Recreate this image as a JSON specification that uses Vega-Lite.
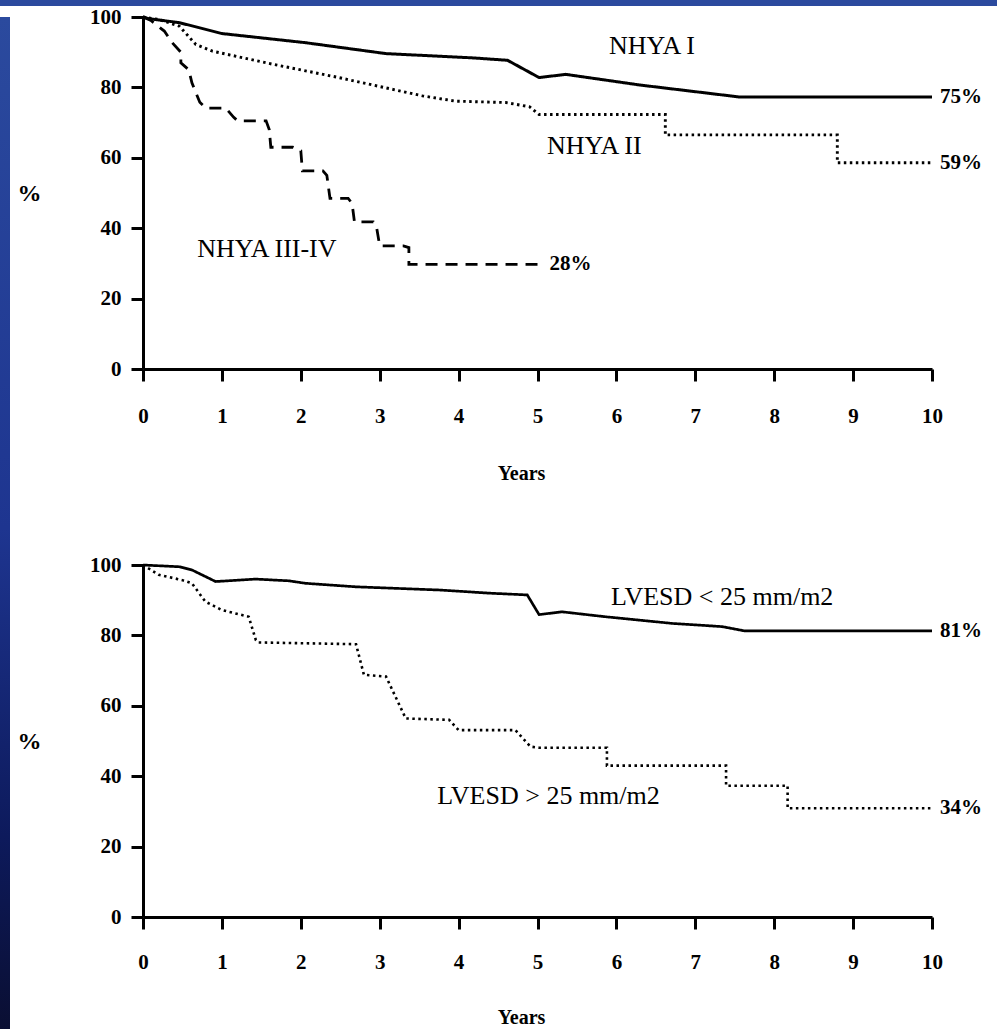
{
  "$schema": "https://vega.github.io/schema/vega-lite/v6.json",
  "padding": 0,
  "background": "white",
  "spacing": 0,
  "config": {
    "view": {"stroke": null},
    "axis": {
      "grid": false,
      "domainColor": "black",
      "domainWidth": 3,
      "tickColor": "black",
      "tickWidth": 3,
      "tickSize": 12,
      "labelFont": "Liberation Serif",
      "labelFontWeight": "bold",
      "labelFontSize": 21,
      "labelColor": "black",
      "labelFlush": false,
      "labelOverlap": false,
      "format": "d",
      "titleFont": "Liberation Serif",
      "titleFontWeight": "bold",
      "titleColor": "black"
    }
  },
  "datasets": {
    "topCurves": [
      {"g": "I", "t": 0, "s": 100}, {"g": "I", "t": 0.08, "s": 99.5}, {"g": "I", "t": 0.46, "s": 98.4}, {"g": "I", "t": 1.0, "s": 95.3}, {"g": "I", "t": 2.06, "s": 92.7}, {"g": "I", "t": 3.08, "s": 89.6}, {"g": "I", "t": 4.17, "s": 88.4}, {"g": "I", "t": 4.62, "s": 87.7}, {"g": "I", "t": 5.02, "s": 82.8}, {"g": "I", "t": 5.36, "s": 83.7}, {"g": "I", "t": 6.29, "s": 80.7}, {"g": "I", "t": 7.55, "s": 77.3}, {"g": "I", "t": 10, "s": 77.3},
      {"g": "II", "t": 0, "s": 100}, {"g": "II", "t": 0.2, "s": 99.3}, {"g": "II", "t": 0.46, "s": 97.4}, {"g": "II", "t": 0.67, "s": 92.2}, {"g": "II", "t": 0.88, "s": 90.3}, {"g": "II", "t": 1.64, "s": 86.6}, {"g": "II", "t": 2.48, "s": 82.8}, {"g": "II", "t": 3.54, "s": 77.6}, {"g": "II", "t": 3.96, "s": 76.1}, {"g": "II", "t": 4.6, "s": 75.7}, {"g": "II", "t": 4.9, "s": 74.5}, {"g": "II", "t": 5.02, "s": 72.3}, {"g": "II", "t": 6.62, "s": 72.3}, {"g": "II", "t": 6.62, "s": 66.5}, {"g": "II", "t": 8.8, "s": 66.5}, {"g": "II", "t": 8.8, "s": 58.6}, {"g": "II", "t": 10, "s": 58.6},
      {"g": "III", "t": 0, "s": 100}, {"g": "III", "t": 0.1, "s": 99}, {"g": "III", "t": 0.27, "s": 96}, {"g": "III", "t": 0.37, "s": 92.7}, {"g": "III", "t": 0.48, "s": 90}, {"g": "III", "t": 0.48, "s": 87}, {"g": "III", "t": 0.58, "s": 85}, {"g": "III", "t": 0.62, "s": 81.3}, {"g": "III", "t": 0.67, "s": 78.5}, {"g": "III", "t": 0.72, "s": 75.8}, {"g": "III", "t": 0.8, "s": 74.1}, {"g": "III", "t": 1.05, "s": 74.1}, {"g": "III", "t": 1.15, "s": 71.5}, {"g": "III", "t": 1.2, "s": 70.5}, {"g": "III", "t": 1.56, "s": 70.5}, {"g": "III", "t": 1.6, "s": 68}, {"g": "III", "t": 1.62, "s": 63}, {"g": "III", "t": 1.9, "s": 63}, {"g": "III", "t": 2.0, "s": 62}, {"g": "III", "t": 2.02, "s": 56.3}, {"g": "III", "t": 2.28, "s": 56.3}, {"g": "III", "t": 2.33, "s": 55}, {"g": "III", "t": 2.37, "s": 48.5}, {"g": "III", "t": 2.6, "s": 48.5}, {"g": "III", "t": 2.65, "s": 47}, {"g": "III", "t": 2.68, "s": 41.8}, {"g": "III", "t": 2.92, "s": 41.8}, {"g": "III", "t": 2.96, "s": 40.3}, {"g": "III", "t": 3.0, "s": 35}, {"g": "III", "t": 3.3, "s": 35}, {"g": "III", "t": 3.37, "s": 34.5}, {"g": "III", "t": 3.37, "s": 29.7}, {"g": "III", "t": 5.0, "s": 29.7}
    ],
    "topLabels": [
      {"label": "NHYA I", "t": 6.45, "s": 91.8},
      {"label": "NHYA II", "t": 5.72, "s": 63.4},
      {"label": "NHYA III-IV", "t": 1.57, "s": 34.1}
    ],
    "topEnds": [
      {"label": "75%", "t": 10, "s": 77.3},
      {"label": "59%", "t": 10, "s": 58.6},
      {"label": "28%", "t": 5.05, "s": 29.7}
    ],
    "botCurves": [
      {"g": "lo", "t": 0, "s": 100}, {"g": "lo", "t": 0.46, "s": 99.5}, {"g": "lo", "t": 0.62, "s": 98.6}, {"g": "lo", "t": 0.92, "s": 95.3}, {"g": "lo", "t": 1.43, "s": 96.0}, {"g": "lo", "t": 1.85, "s": 95.5}, {"g": "lo", "t": 2.06, "s": 94.8}, {"g": "lo", "t": 2.7, "s": 93.8}, {"g": "lo", "t": 3.75, "s": 92.9}, {"g": "lo", "t": 4.39, "s": 92.0}, {"g": "lo", "t": 4.87, "s": 91.5}, {"g": "lo", "t": 5.02, "s": 85.9}, {"g": "lo", "t": 5.31, "s": 86.7}, {"g": "lo", "t": 5.86, "s": 85.3}, {"g": "lo", "t": 6.71, "s": 83.4}, {"g": "lo", "t": 7.34, "s": 82.5}, {"g": "lo", "t": 7.62, "s": 81.3}, {"g": "lo", "t": 10, "s": 81.3},
      {"g": "hi", "t": 0, "s": 100}, {"g": "hi", "t": 0.2, "s": 97.2}, {"g": "hi", "t": 0.5, "s": 95.7}, {"g": "hi", "t": 0.62, "s": 94.8}, {"g": "hi", "t": 0.79, "s": 89.6}, {"g": "hi", "t": 1.0, "s": 87.2}, {"g": "hi", "t": 1.34, "s": 85.3}, {"g": "hi", "t": 1.43, "s": 78.7}, {"g": "hi", "t": 1.46, "s": 78}, {"g": "hi", "t": 2.7, "s": 77.5}, {"g": "hi", "t": 2.8, "s": 68.8}, {"g": "hi", "t": 3.08, "s": 68.3}, {"g": "hi", "t": 3.33, "s": 56.4}, {"g": "hi", "t": 3.88, "s": 56}, {"g": "hi", "t": 4.0, "s": 53.1}, {"g": "hi", "t": 4.72, "s": 53.1}, {"g": "hi", "t": 4.91, "s": 48.4}, {"g": "hi", "t": 5.02, "s": 48.1}, {"g": "hi", "t": 5.88, "s": 48.1}, {"g": "hi", "t": 5.88, "s": 43.0}, {"g": "hi", "t": 7.39, "s": 43.0}, {"g": "hi", "t": 7.39, "s": 37.3}, {"g": "hi", "t": 8.17, "s": 37.3}, {"g": "hi", "t": 8.17, "s": 30.9}, {"g": "hi", "t": 10, "s": 30.9}
    ],
    "botLabels": [
      {"label": "LVESD < 25 mm/m2", "t": 7.34, "s": 90.9},
      {"label": "LVESD > 25 mm/m2", "t": 5.14, "s": 34.4}
    ],
    "botEnds": [
      {"label": "81%", "t": 10, "s": 81.3},
      {"label": "34%", "t": 10, "s": 30.9}
    ],
    "one": [{"k": 1}]
  },
  "vconcat": [
    {
      "width": 997,
      "height": 6,
      "data": {"name": "one"},
      "mark": {"type": "rect", "color": "#2b4a9e"},
      "encoding": {}
    },
    {
      "spacing": 7,
      "hconcat": [
        {
          "width": 10,
          "height": 1023,
          "data": {"name": "one"},
          "mark": {
            "type": "rect",
            "color": {
              "gradient": "linear",
              "x1": 0, "y1": 0, "x2": 0, "y2": 1,
              "stops": [
                {"offset": 0, "color": "#2b4a9e"},
                {"offset": 0.5, "color": "#1e3590"},
                {"offset": 0.8, "color": "#0d1a5c"},
                {"offset": 1, "color": "#0a0e30"}
              ]
            }
          },
          "encoding": {}
        },
        {
          "spacing": 71,
          "vconcat": [
            {
              "width": 789,
              "height": 352,
              "layer": [
                {
                  "data": {"name": "topCurves"},
                  "mark": {"type": "line", "color": "black", "strokeCap": "butt"},
                  "encoding": {
                    "x": {"field": "t", "type": "quantitative", "scale": {"domain": [0, 10], "nice": false, "zero": false},
                      "axis": {"values": [0, 1, 2, 3, 4, 5, 6, 7, 8, 9, 10], "labelPadding": 24, "title": "Years", "titleFontSize": 20, "titleX": 378, "titleY": 104, "titleAlign": "center", "titleBaseline": "middle"}},
                    "y": {"field": "s", "type": "quantitative", "scale": {"domain": [0, 100], "nice": false},
                      "axis": {"values": [0, 20, 40, 60, 80, 100], "labelPadding": 10, "title": "%", "titleFontSize": 24, "titleAngle": 0, "titleX": -114, "titleY": 176, "titleAlign": "center", "titleBaseline": "middle"}},
                    "detail": {"field": "g", "type": "nominal"},
                    "order": {"value": null},
                    "strokeDash": {"field": "g", "type": "nominal", "scale": {"domain": ["I", "II", "III"], "range": [[1, 0], [2.5, 3.5], [12, 8]]}, "legend": null},
                    "strokeWidth": {"field": "g", "type": "nominal", "scale": {"domain": ["I", "II", "III"], "range": [3, 2.6, 3]}, "legend": null}
                  }
                },
                {
                  "data": {"name": "topLabels"},
                  "mark": {"type": "text", "font": "Liberation Serif", "fontSize": 26, "color": "black", "align": "center", "baseline": "middle"},
                  "encoding": {
                    "x": {"field": "t", "type": "quantitative"},
                    "y": {"field": "s", "type": "quantitative"},
                    "text": {"field": "label"}
                  }
                },
                {
                  "data": {"name": "topEnds"},
                  "mark": {"type": "text", "font": "Liberation Serif", "fontSize": 21, "fontWeight": "bold", "color": "black", "align": "left", "baseline": "middle", "dx": 8},
                  "encoding": {
                    "x": {"field": "t", "type": "quantitative"},
                    "y": {"field": "s", "type": "quantitative"},
                    "text": {"field": "label"}
                  }
                }
              ]
            },
            {
              "width": 789,
              "height": 352,
              "layer": [
                {
                  "data": {"name": "botCurves"},
                  "mark": {"type": "line", "color": "black", "strokeCap": "butt"},
                  "encoding": {
                    "x": {"field": "t", "type": "quantitative", "scale": {"domain": [0, 10], "nice": false, "zero": false},
                      "axis": {"values": [0, 1, 2, 3, 4, 5, 6, 7, 8, 9, 10], "labelPadding": 22, "title": "Years", "titleFontSize": 20, "titleX": 378, "titleY": 100, "titleAlign": "center", "titleBaseline": "middle"}},
                    "y": {"field": "s", "type": "quantitative", "scale": {"domain": [0, 100], "nice": false},
                      "axis": {"values": [0, 20, 40, 60, 80, 100], "labelPadding": 10, "title": "%", "titleFontSize": 24, "titleAngle": 0, "titleX": -114, "titleY": 176, "titleAlign": "center", "titleBaseline": "middle"}},
                    "detail": {"field": "g", "type": "nominal"},
                    "order": {"value": null},
                    "strokeDash": {"field": "g", "type": "nominal", "scale": {"domain": ["lo", "hi"], "range": [[1, 0], [2.5, 3.5]]}, "legend": null},
                    "strokeWidth": {"field": "g", "type": "nominal", "scale": {"domain": ["lo", "hi"], "range": [2.8, 2.6]}, "legend": null}
                  }
                },
                {
                  "data": {"name": "botLabels"},
                  "mark": {"type": "text", "font": "Liberation Serif", "fontSize": 26, "color": "black", "align": "center", "baseline": "middle"},
                  "encoding": {
                    "x": {"field": "t", "type": "quantitative"},
                    "y": {"field": "s", "type": "quantitative"},
                    "text": {"field": "label"}
                  }
                },
                {
                  "data": {"name": "botEnds"},
                  "mark": {"type": "text", "font": "Liberation Serif", "fontSize": 21, "fontWeight": "bold", "color": "black", "align": "left", "baseline": "middle", "dx": 8},
                  "encoding": {
                    "x": {"field": "t", "type": "quantitative"},
                    "y": {"field": "s", "type": "quantitative"},
                    "text": {"field": "label"}
                  }
                }
              ]
            }
          ]
        }
      ]
    }
  ]
}
